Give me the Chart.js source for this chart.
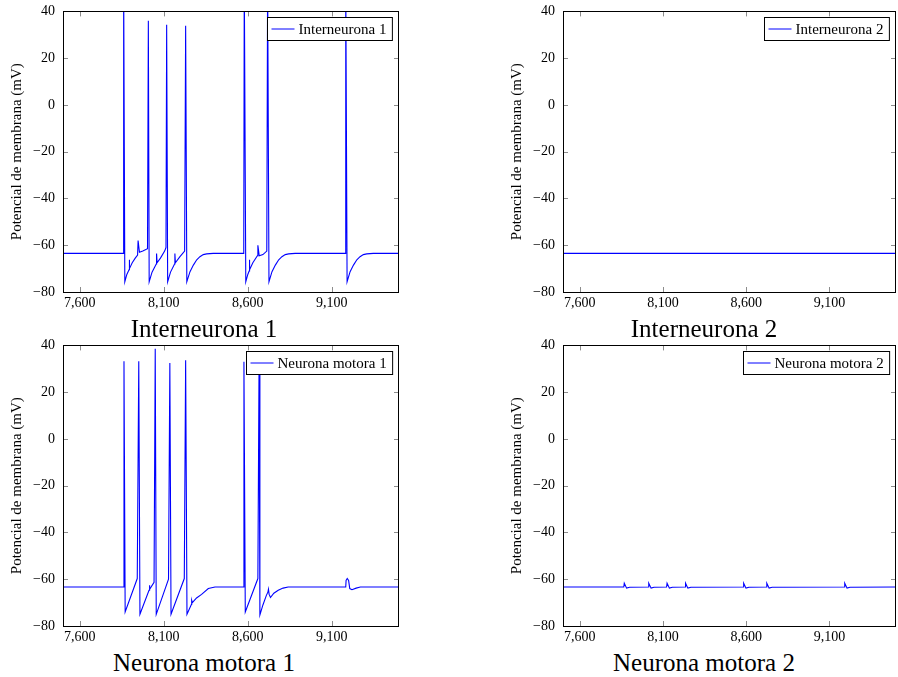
<!DOCTYPE html>
<html lang="es">
<head>
  <meta charset="UTF-8">
  <title>Potencial de membrana</title>
  <script src="https://cdn.jsdelivr.net/npm/chart.js"></script>
  <style>
    body { margin: 0; background: #fff; width: 898px; height: 677px; position: relative; overflow: hidden; }
    canvas { position: absolute; }
    .subtitulo { position: absolute; width: 300px; text-align: center; font-family: "Liberation Serif", serif; font-size: 25px; line-height: 1; color: #000; }
  </style>
</head>
<body>
  <canvas id="inter1" width="410" height="317" style="left:0; top:-5px;"></canvas>
  <canvas id="inter2" width="398" height="317" style="left:500px; top:-5px;"></canvas>
  <canvas id="motor1" width="410" height="317" style="left:0; top:329px;"></canvas>
  <canvas id="motor2" width="398" height="317" style="left:500px; top:329px;"></canvas>

  <div class="subtitulo" style="left:54px; top:316px;">Interneurona 1</div>
  <div class="subtitulo" style="left:554px; top:316px;">Interneurona 2</div>
  <div class="subtitulo" style="left:54px; top:650px;">Neurona motora 1</div>
  <div class="subtitulo" style="left:554px; top:650px;">Neurona motora 2</div>

  <script>
    // ejes
    const xTicks = [7600, 8100, 8600, 9100];
    const yTicks = [-80, -60, -40, -20, 0, 20, 40];
    const etiquetaY = 'Potencial de membrana (mV)';

    // Interneurona 1 (tiempo, voltaje)
    const tInter1 = [7500, 7858, 7861, 7868, 7880, 7893, 7894, 7897, 7912, 7930, 7944, 7947, 7955, 7975, 8003,
      8008, 8013, 8030, 8055, 8057, 8060, 8080, 8105, 8113, 8117, 8123, 8140, 8164, 8166, 8169, 8195, 8224,
      8230, 8237, 8256, 8276, 8296, 8315, 8335, 8355, 8394, 8576, 8579, 8588, 8600, 8608, 8609, 8612, 8630,
      8657, 8660, 8668, 8690, 8713, 8718, 8726, 8744, 8764, 8784, 8803, 8823, 8843, 8882, 9180, 9183, 9191,
      9209, 9229, 9249, 9268, 9288, 9308, 9347, 9500];
    const vInter1 = [-63.5, -63.5, 55, -75.6, -72.5, -70.5, -66.2, -70, -67.5, -65.5, -64.2, -58, -63, -62.5, -61.5,
      36, -75.6, -71.5, -68, -63.5, -67.5, -65.5, -62.5, -61, 34.3, -75.6, -71.5, -68, -63.5, -67.5, -65, -62.5,
      33.9, -75.6, -71.3, -68.5, -66.2, -64.9, -64, -63.7, -63.5, -63.5, 55, -75.6, -72.5, -71, -66.2, -70.5, -67.5,
      -64.5, -60, -64.5, -64, -62.5, 55, -75.6, -71.3, -68.5, -66.2, -64.9, -64, -63.7, -63.5, -63.5, 55, -75.6,
      -71.3, -68.5, -66.2, -64.9, -64, -63.7, -63.5, -63.5];

    // Interneurona 2
    const tInter2 = [7500, 9500];
    const vInter2 = [-63.5, -63.5];

    // Neurona motora 1
    const tMotor1 = [7500, 7861, 7863, 7870, 7942, 7951, 7958, 8012, 8014, 8017, 8042, 8049, 8055, 8128, 8136, 8143,
      8222, 8230, 8238, 8264, 8266, 8270, 8295, 8325, 8365, 8405, 8574, 8577, 8585, 8660, 8667, 8672, 8690, 8710,
      8720, 8723, 8727, 8735, 8755, 8781, 8810, 8840, 9183, 9185, 9192, 9200, 9207, 9220, 9245, 9270, 9500];
    const vMotor1 = [-63.3, -63.3, 33.2, -74, -59.7, 33.2, -75, -64.7, -62.6, -64.3, -61.3, 38.6, -75, -60, 32.5, -75,
      -59.7, 33.6, -75, -70.8, -69, -70, -68, -66.5, -64, -63.3, -63.3, 33, -74, -59.7, 33, -75.3, -71, -67,
      -65.4, -64.3, -66.5, -67.8, -66, -64.7, -63.8, -63.3, -63.3, -60.5, -59.7, -60.5, -64, -64.5, -63.8, -63.3, -63.3];

    // Neurona motora 2
    const tMotor2 = [7500, 7865, 7868, 7882, 7900, 8012, 8015, 8029, 8047, 8122, 8125, 8139, 8157, 8233, 8236, 8250, 8268,
      8582, 8585, 8599, 8617, 8721, 8724, 8738, 8756, 9189, 9192, 9206, 9224, 9500];
    const vMotor2 = [-63.3, -63.3, -61.7, -63.8, -63.4, -63.3, -61.7, -63.8, -63.4, -63.3, -61.7, -63.8, -63.4, -63.3, -61.7, -63.8, -63.4,
      -63.3, -61.7, -63.8, -63.4, -63.3, -61.7, -63.8, -63.4, -63.3, -61.7, -63.8, -63.4, -63.3];

    const fuente = "'Liberation Serif', 'Times New Roman', serif";
    const azul = '#0000ff';

    // marco, marcas hacia dentro y leyenda estilo pgfplots
    const marcoPlugin = {
      id: 'marco',
      afterDatasetsDraw(chart, args, opts) {
        const ctx = chart.ctx;
        const a = chart.chartArea;
        const xs = chart.scales.x, ys = chart.scales.y;
        ctx.save();
        ctx.strokeStyle = '#8c8c8c';
        ctx.lineWidth = 1;
        ctx.beginPath();
        xTicks.forEach(v => {
          const px = Math.round(xs.getPixelForValue(v)) + 0.5;
          ctx.moveTo(px, a.bottom); ctx.lineTo(px, a.bottom - 5);
          ctx.moveTo(px, a.top); ctx.lineTo(px, a.top + 5);
        });
        yTicks.forEach(v => {
          const py = Math.round(ys.getPixelForValue(v)) + 0.5;
          ctx.moveTo(a.left, py); ctx.lineTo(a.left + 5, py);
          ctx.moveTo(a.right, py); ctx.lineTo(a.right - 5, py);
        });
        ctx.stroke();
        ctx.strokeStyle = '#000';
        ctx.strokeRect(Math.round(a.left) + 0.5, Math.round(a.top) + 0.5,
          Math.round(a.right - a.left) - 1, Math.round(a.bottom - a.top));

        // leyenda
        ctx.font = '15px ' + fuente;
        const w = ctx.measureText(opts.texto).width + 37;
        const bx = Math.round(a.right - 7 - w) + 0.5, by = Math.round(a.top + 6) + 0.5, bh = 23;
        ctx.fillStyle = '#fff';
        ctx.fillRect(bx, by, w, bh);
        ctx.strokeStyle = '#000';
        ctx.strokeRect(bx, by, w, bh);
        ctx.strokeStyle = azul;
        ctx.beginPath();
        ctx.moveTo(bx + 4, by + bh / 2); ctx.lineTo(bx + 27, by + bh / 2);
        ctx.stroke();
        ctx.fillStyle = '#000';
        ctx.textBaseline = 'middle';
        ctx.fillText(opts.texto, bx + 31, by + bh / 2 + 1);
        ctx.restore();
      }
    };

    function crearGrafico(id, t, v, nombre, derecha) {
      return new Chart(document.getElementById(id), {
        type: 'line',
        data: {
          datasets: [{
            label: nombre,
            data: t.map((x, i) => ({ x: x, y: v[i] })),
            borderColor: azul,
            borderWidth: 1.1,
            pointRadius: 0,
            tension: 0,
            fill: false
          }]
        },
        options: {
          responsive: false,
          animation: false,
          devicePixelRatio: 1,
          layout: { padding: { top: 5, right: derecha, left: 0, bottom: 0 } },
          plugins: {
            legend: { display: false },
            tooltip: { enabled: false },
            marco: { texto: nombre }
          },
          scales: {
            x: {
              type: 'linear',
              min: 7500,
              max: 9500,
              afterBuildTicks: s => { s.ticks = xTicks.map(v => ({ value: v })); },
              afterFit: s => { s.height = 20; },
              grid: { display: false, drawTicks: false },
              border: { display: false },
              ticks: {
                padding: 3,
                color: '#000',
                font: { family: fuente, size: 14 },
                maxRotation: 0,
                callback: v => v.toLocaleString('en-US')
              }
            },
            y: {
              min: -80,
              max: 40,
              afterBuildTicks: s => { s.ticks = yTicks.map(v => ({ value: v })); },
              afterFit: s => { s.width = 63; },
              grid: { display: false, drawTicks: false },
              border: { display: false },
              ticks: {
                padding: 8,
                color: '#000',
                font: { family: fuente, size: 14 },
                callback: v => String(v).replace('-', '\u2212')
              },
              title: {
                display: true,
                text: etiquetaY,
                color: '#000',
                font: { family: fuente, size: 15 },
                padding: { top: 8, bottom: 0 }
              }
            }
          }
        },
        plugins: [marcoPlugin]
      });
    }

    crearGrafico('inter1', tInter1, vInter1, 'Interneurona 1', 11);
    crearGrafico('inter2', tInter2, vInter2, 'Interneurona 2', 2);
    crearGrafico('motor1', tMotor1, vMotor1, 'Neurona motora 1', 11);
    crearGrafico('motor2', tMotor2, vMotor2, 'Neurona motora 2', 2);
  </script>
</body>
</html>
